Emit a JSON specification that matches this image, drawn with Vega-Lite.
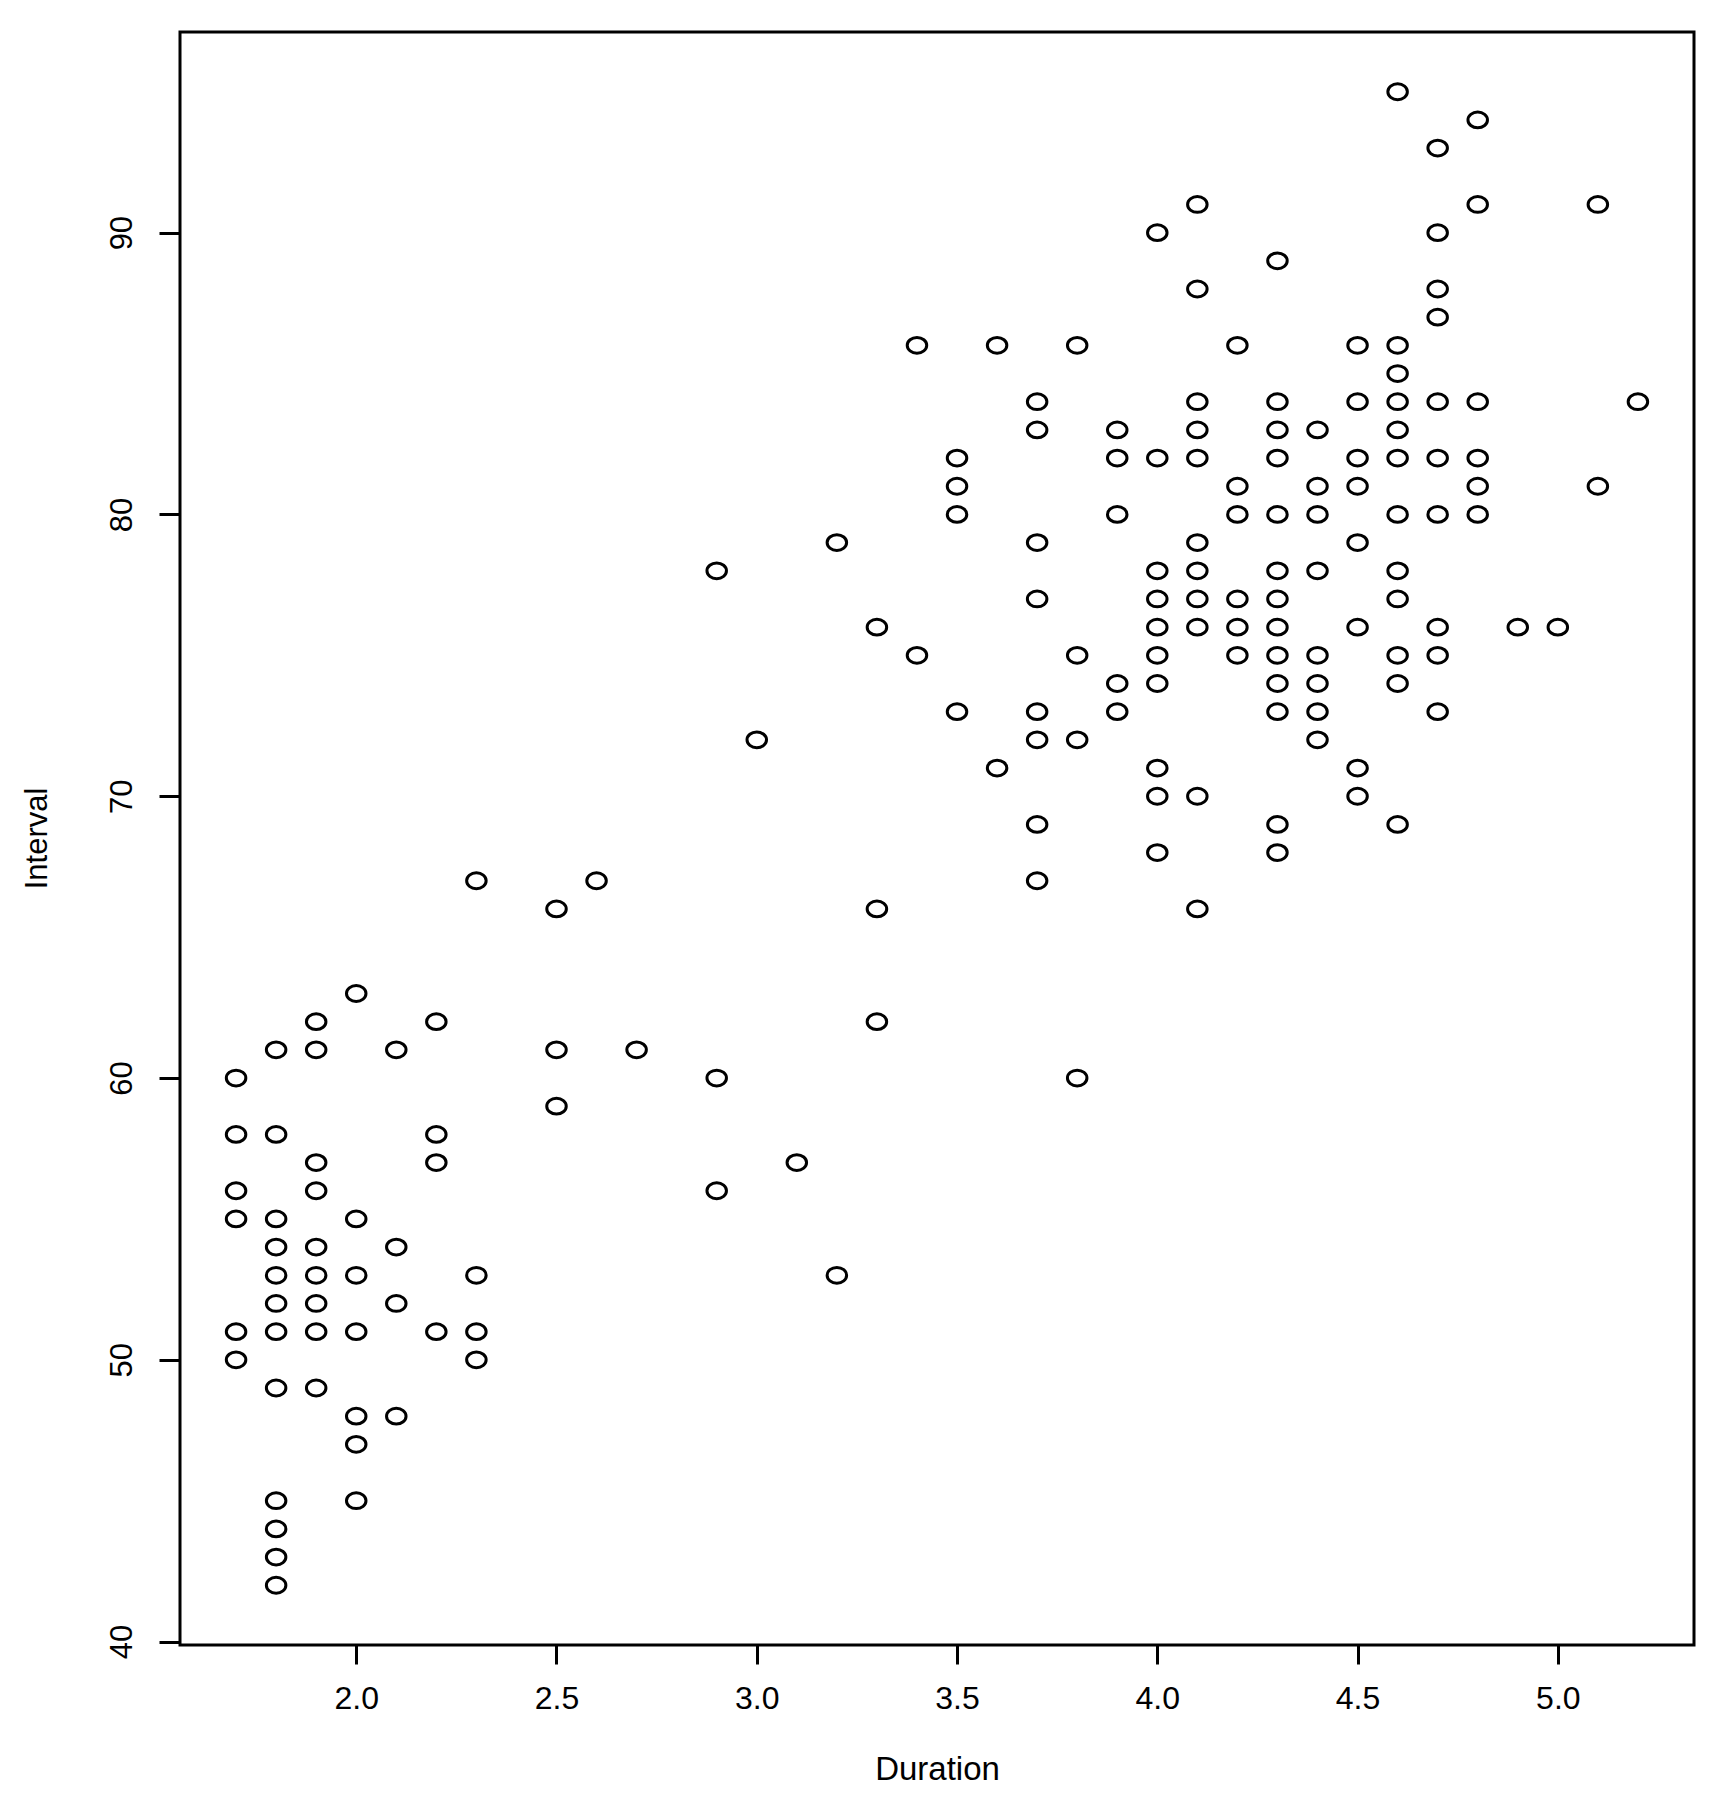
{
  "$schema": "https://vega.github.io/schema/vega-lite/v6.json",
  "autosize": {"type": "none"},
  "padding": {"left": 180, "top": 32, "right": 31, "bottom": 166},
  "width": 1514,
  "height": 1613,
  "background": "white",
  "config": {
    "view": {"stroke": "black", "strokeWidth": 3},
    "font": "Liberation Sans"
  },
  "datasets": {
    "geyser": [
      {"Duration": 1.7, "Interval": 60}, {"Duration": 1.7, "Interval": 58}, {"Duration": 1.7, "Interval": 56}, {"Duration": 1.7, "Interval": 55}, {"Duration": 1.7, "Interval": 51}, {"Duration": 1.7, "Interval": 50},
      {"Duration": 1.8, "Interval": 61}, {"Duration": 1.8, "Interval": 58}, {"Duration": 1.8, "Interval": 55}, {"Duration": 1.8, "Interval": 54}, {"Duration": 1.8, "Interval": 53}, {"Duration": 1.8, "Interval": 52}, {"Duration": 1.8, "Interval": 51}, {"Duration": 1.8, "Interval": 49}, {"Duration": 1.8, "Interval": 45}, {"Duration": 1.8, "Interval": 44}, {"Duration": 1.8, "Interval": 43}, {"Duration": 1.8, "Interval": 42},
      {"Duration": 1.9, "Interval": 62}, {"Duration": 1.9, "Interval": 61}, {"Duration": 1.9, "Interval": 57}, {"Duration": 1.9, "Interval": 56}, {"Duration": 1.9, "Interval": 54}, {"Duration": 1.9, "Interval": 53}, {"Duration": 1.9, "Interval": 52}, {"Duration": 1.9, "Interval": 51}, {"Duration": 1.9, "Interval": 49},
      {"Duration": 2.0, "Interval": 63}, {"Duration": 2.0, "Interval": 55}, {"Duration": 2.0, "Interval": 53}, {"Duration": 2.0, "Interval": 51}, {"Duration": 2.0, "Interval": 48}, {"Duration": 2.0, "Interval": 47}, {"Duration": 2.0, "Interval": 45},
      {"Duration": 2.1, "Interval": 61}, {"Duration": 2.1, "Interval": 54}, {"Duration": 2.1, "Interval": 52}, {"Duration": 2.1, "Interval": 48},
      {"Duration": 2.2, "Interval": 62}, {"Duration": 2.2, "Interval": 58}, {"Duration": 2.2, "Interval": 57}, {"Duration": 2.2, "Interval": 51},
      {"Duration": 2.3, "Interval": 67}, {"Duration": 2.3, "Interval": 53}, {"Duration": 2.3, "Interval": 51}, {"Duration": 2.3, "Interval": 50},
      {"Duration": 2.5, "Interval": 66}, {"Duration": 2.5, "Interval": 61}, {"Duration": 2.5, "Interval": 59},
      {"Duration": 2.6, "Interval": 67},
      {"Duration": 2.7, "Interval": 61},
      {"Duration": 2.9, "Interval": 78}, {"Duration": 2.9, "Interval": 60}, {"Duration": 2.9, "Interval": 56},
      {"Duration": 3.0, "Interval": 72},
      {"Duration": 3.1, "Interval": 57},
      {"Duration": 3.2, "Interval": 79}, {"Duration": 3.2, "Interval": 53},
      {"Duration": 3.3, "Interval": 76}, {"Duration": 3.3, "Interval": 66}, {"Duration": 3.3, "Interval": 62},
      {"Duration": 3.4, "Interval": 86}, {"Duration": 3.4, "Interval": 75},
      {"Duration": 3.5, "Interval": 82}, {"Duration": 3.5, "Interval": 81}, {"Duration": 3.5, "Interval": 80}, {"Duration": 3.5, "Interval": 73},
      {"Duration": 3.6, "Interval": 86}, {"Duration": 3.6, "Interval": 71},
      {"Duration": 3.7, "Interval": 84}, {"Duration": 3.7, "Interval": 83}, {"Duration": 3.7, "Interval": 79}, {"Duration": 3.7, "Interval": 77}, {"Duration": 3.7, "Interval": 73}, {"Duration": 3.7, "Interval": 72}, {"Duration": 3.7, "Interval": 69}, {"Duration": 3.7, "Interval": 67},
      {"Duration": 3.8, "Interval": 86}, {"Duration": 3.8, "Interval": 75}, {"Duration": 3.8, "Interval": 72}, {"Duration": 3.8, "Interval": 60},
      {"Duration": 3.9, "Interval": 83}, {"Duration": 3.9, "Interval": 82}, {"Duration": 3.9, "Interval": 80}, {"Duration": 3.9, "Interval": 74}, {"Duration": 3.9, "Interval": 73},
      {"Duration": 4.0, "Interval": 90}, {"Duration": 4.0, "Interval": 82}, {"Duration": 4.0, "Interval": 78}, {"Duration": 4.0, "Interval": 77}, {"Duration": 4.0, "Interval": 76}, {"Duration": 4.0, "Interval": 75}, {"Duration": 4.0, "Interval": 74}, {"Duration": 4.0, "Interval": 71}, {"Duration": 4.0, "Interval": 70}, {"Duration": 4.0, "Interval": 68},
      {"Duration": 4.1, "Interval": 91}, {"Duration": 4.1, "Interval": 88}, {"Duration": 4.1, "Interval": 84}, {"Duration": 4.1, "Interval": 83}, {"Duration": 4.1, "Interval": 82}, {"Duration": 4.1, "Interval": 79}, {"Duration": 4.1, "Interval": 78}, {"Duration": 4.1, "Interval": 77}, {"Duration": 4.1, "Interval": 76}, {"Duration": 4.1, "Interval": 70}, {"Duration": 4.1, "Interval": 66},
      {"Duration": 4.2, "Interval": 86}, {"Duration": 4.2, "Interval": 81}, {"Duration": 4.2, "Interval": 80}, {"Duration": 4.2, "Interval": 77}, {"Duration": 4.2, "Interval": 76}, {"Duration": 4.2, "Interval": 75},
      {"Duration": 4.3, "Interval": 89}, {"Duration": 4.3, "Interval": 84}, {"Duration": 4.3, "Interval": 83}, {"Duration": 4.3, "Interval": 82}, {"Duration": 4.3, "Interval": 80}, {"Duration": 4.3, "Interval": 78}, {"Duration": 4.3, "Interval": 77}, {"Duration": 4.3, "Interval": 76}, {"Duration": 4.3, "Interval": 75}, {"Duration": 4.3, "Interval": 74}, {"Duration": 4.3, "Interval": 73}, {"Duration": 4.3, "Interval": 69}, {"Duration": 4.3, "Interval": 68},
      {"Duration": 4.4, "Interval": 83}, {"Duration": 4.4, "Interval": 81}, {"Duration": 4.4, "Interval": 80}, {"Duration": 4.4, "Interval": 78}, {"Duration": 4.4, "Interval": 75}, {"Duration": 4.4, "Interval": 74}, {"Duration": 4.4, "Interval": 73}, {"Duration": 4.4, "Interval": 72},
      {"Duration": 4.5, "Interval": 86}, {"Duration": 4.5, "Interval": 84}, {"Duration": 4.5, "Interval": 82}, {"Duration": 4.5, "Interval": 81}, {"Duration": 4.5, "Interval": 79}, {"Duration": 4.5, "Interval": 76}, {"Duration": 4.5, "Interval": 71}, {"Duration": 4.5, "Interval": 70},
      {"Duration": 4.6, "Interval": 95}, {"Duration": 4.6, "Interval": 86}, {"Duration": 4.6, "Interval": 85}, {"Duration": 4.6, "Interval": 84}, {"Duration": 4.6, "Interval": 83}, {"Duration": 4.6, "Interval": 82}, {"Duration": 4.6, "Interval": 80}, {"Duration": 4.6, "Interval": 78}, {"Duration": 4.6, "Interval": 77}, {"Duration": 4.6, "Interval": 75}, {"Duration": 4.6, "Interval": 74}, {"Duration": 4.6, "Interval": 69},
      {"Duration": 4.7, "Interval": 93}, {"Duration": 4.7, "Interval": 90}, {"Duration": 4.7, "Interval": 88}, {"Duration": 4.7, "Interval": 87}, {"Duration": 4.7, "Interval": 84}, {"Duration": 4.7, "Interval": 82}, {"Duration": 4.7, "Interval": 80}, {"Duration": 4.7, "Interval": 76}, {"Duration": 4.7, "Interval": 75}, {"Duration": 4.7, "Interval": 73},
      {"Duration": 4.8, "Interval": 94}, {"Duration": 4.8, "Interval": 91}, {"Duration": 4.8, "Interval": 84}, {"Duration": 4.8, "Interval": 82}, {"Duration": 4.8, "Interval": 81}, {"Duration": 4.8, "Interval": 80},
      {"Duration": 4.9, "Interval": 76},
      {"Duration": 5.0, "Interval": 76},
      {"Duration": 5.1, "Interval": 91}, {"Duration": 5.1, "Interval": 81},
      {"Duration": 5.2, "Interval": 84}
    ]
  },
  "data": {"name": "geyser"},
  "mark": {
    "type": "point",
    "shape": "M -1 0 A 1 0.81 0 1 0 1 0 A 1 0.81 0 1 0 -1 0 Z",
    "filled": false,
    "stroke": "black",
    "strokeWidth": 3,
    "size": 380,
    "opacity": 1
  },
  "encoding": {
    "x": {
      "field": "Duration",
      "type": "quantitative",
      "scale": {"domain": [1.56, 5.34], "nice": false, "zero": false},
      "axis": {
        "title": "Duration",
        "values": [2.0, 2.5, 3.0, 3.5, 4.0, 4.5, 5.0],
        "format": ".1f",
        "grid": false,
        "domain": false,
        "ticks": true,
        "tickSize": 19,
        "tickWidth": 3,
        "tickColor": "black",
        "labelFont": "Liberation Sans",
        "labelFontSize": 32,
        "labelColor": "black",
        "labelPadding": 19,
        "labelBaseline": "top",
        "labelFlush": false,
        "labelOverlap": false,
        "titleFont": "Liberation Sans",
        "titleFontSize": 33,
        "titleFontWeight": "normal",
        "titleColor": "black",
        "titleX": 757,
        "titleY": 124,
        "titleBaseline": "middle",
        "titleAlign": "center"
      }
    },
    "y": {
      "field": "Interval",
      "type": "quantitative",
      "scale": {"domain": [39.88, 97.12], "nice": false, "zero": false},
      "axis": {
        "title": "Interval",
        "values": [40, 50, 60, 70, 80, 90],
        "format": "d",
        "grid": false,
        "domain": false,
        "ticks": true,
        "tickSize": 21,
        "tickWidth": 3,
        "tickColor": "black",
        "labelFont": "Liberation Sans",
        "labelFontSize": 31,
        "labelColor": "black",
        "labelAngle": 270,
        "labelAlign": "center",
        "labelBaseline": "alphabetic",
        "labelPadding": 28,
        "labelFlush": false,
        "labelOverlap": false,
        "titleFont": "Liberation Sans",
        "titleFontSize": 31,
        "titleFontWeight": "normal",
        "titleColor": "black",
        "titleAngle": 270,
        "titleX": -143,
        "titleY": 806,
        "titleBaseline": "middle",
        "titleAlign": "center"
      }
    }
  }
}
